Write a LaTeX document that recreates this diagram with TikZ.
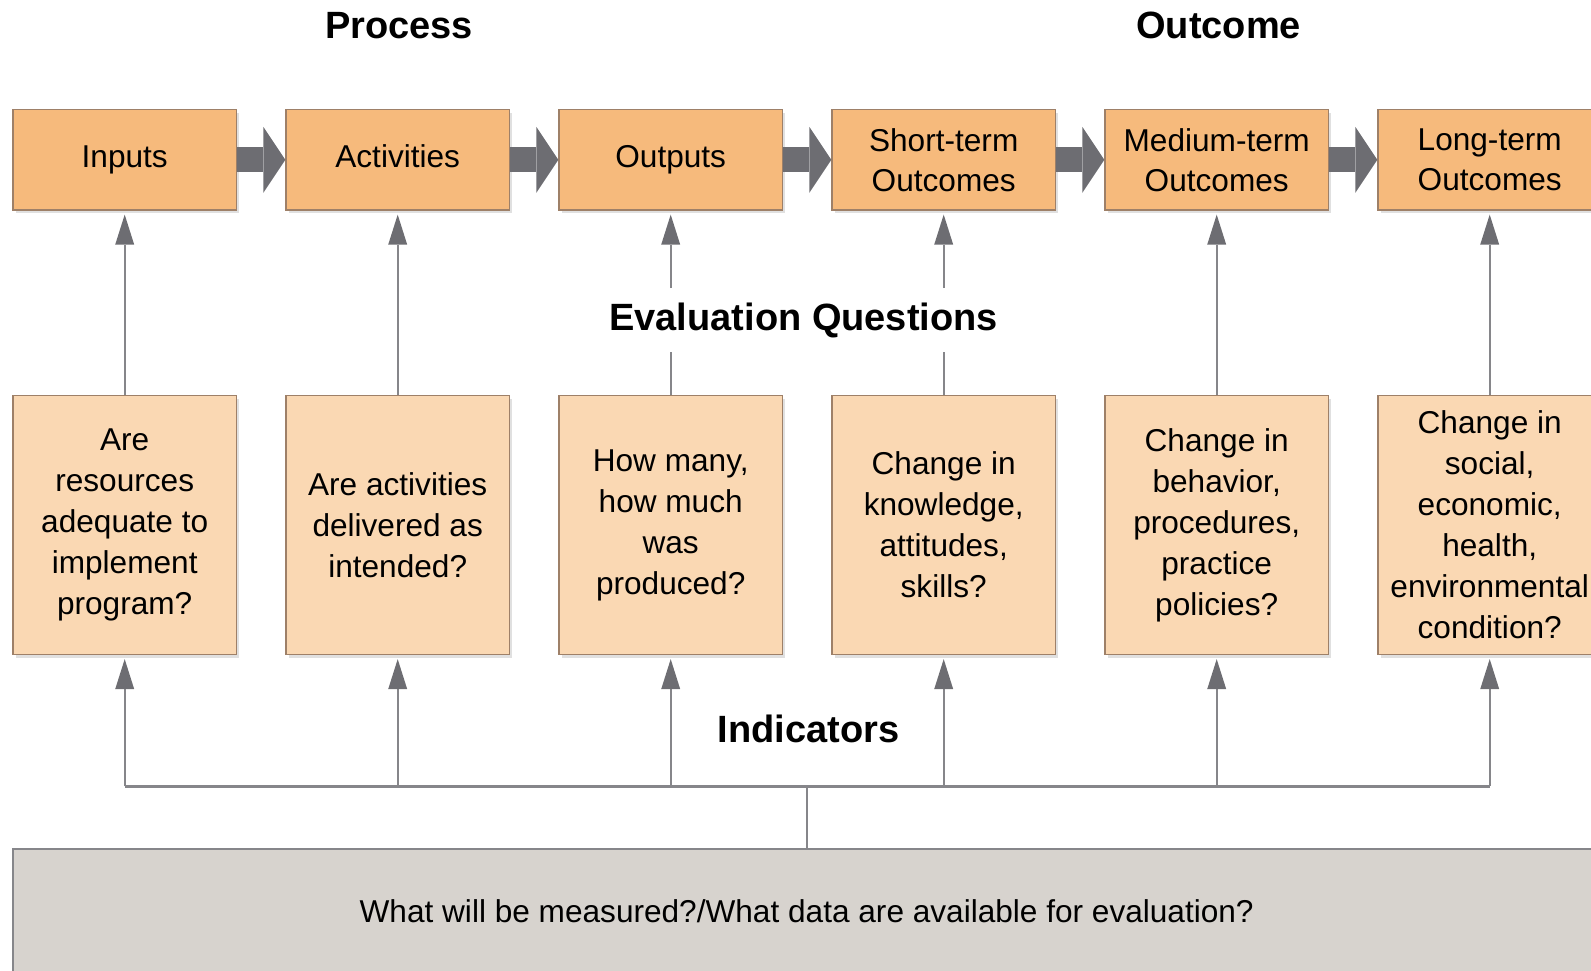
\documentclass[tikz,border=0pt]{standalone}
\usepackage{fontspec}
\setmainfont{Liberation Sans}
\usetikzlibrary{shadows}
\usetikzlibrary{arrows.meta}
\usetikzlibrary{calc}
\definecolor{stageorange}{HTML}{F6BA7C}
\definecolor{questpeach}{HTML}{FAD8B3}
\definecolor{boxedge}{HTML}{9E8068}
\definecolor{datagray}{HTML}{D7D3CE}
\definecolor{arrowgray}{HTML}{6D6D72}
\definecolor{linegray}{HTML}{86868A}
\tikzstyle{stage}=[rectangle,draw=boxedge,fill=stageorange,line width=0.6pt,minimum width=111.75pt,minimum height=50.2pt,inner sep=0pt,align=center,font=\fontsize{15.8}{20}\selectfont,drop shadow={shadow xshift=1.5pt,shadow yshift=-1.5pt,fill=black!20,opacity=0.6}]
\tikzstyle{question}=[stage,fill=questpeach,minimum height=129.4pt,font=\fontsize{15.8}{20.5}\selectfont]
\tikzstyle{datastrip}=[rectangle,draw=linegray,fill=datagray,line width=0.8pt,minimum width=794pt,minimum height=62pt,inner sep=0pt,font=\fontsize{15.8}{20}\selectfont]
\tikzstyle{heading}=[font=\bfseries\fontsize{19}{22}\selectfont]
\tikzstyle{flowarrow}=[arrowgray,line width=12.5pt,-{Triangle[length=11pt,width=33pt,line width=0pt]}]
\tikzstyle{qline}=[linegray,line width=1.2pt]
\tikzstyle{qarrow}=[qline,-{Triangle[length=15pt,width=9.5pt,line width=0pt,color=arrowgray]},shorten >=2pt]

\begin{document}
\begin{tikzpicture}[x=0.5pt,y=-0.5pt]

    \clip (0,0) rectangle (1591,970);

    % headings
    \node[heading] (process) at (399,25.4) {Process};
    \node[heading] (outcome) at (1218.6,25.4) {Outcome};

    % stages of the chain
    \foreach \x/\name/\txt in {124.7/s1/{Inputs\strut}, 397.7/s2/{Activities\strut}, 670.7/s3/{Outputs\strut},
                               943.7/s4/{Short-term\\Outcomes}, 1216.7/s5/{Medium-term\\Outcomes},
                               1489.7/s6/{Long-term\\Outcomes}}
        \node[stage] (\name) at (\x,159.8) {\txt};

    \foreach \a/\b in {s1/s2, s2/s3, s3/s4, s4/s5, s5/s6}
        \draw[flowarrow] (\a.east) -- (\b.west);

    % questions
    \foreach \x/\name/\txt in {124.7/q1/{Are\\resources\\adequate to\\implement\\program?},
                               397.7/q2/{Are activities\\delivered as\\intended?},
                               670.7/q3/{How many,\\how much\\was\\produced?},
                               943.7/q4/{Change in\\knowledge,\\attitudes,\\skills?},
                               1216.7/q5/{Change in\\behavior,\\procedures,\\practice\\policies?},
                               1489.7/q6/{Change in\\social,\\economic,\\health,\\environmental\\condition?}}
        \node[question] (\name) at (\x,525.1) {\txt};

    \node[heading, inner ysep=7pt] (evq) at (803.6,320) {Evaluation Questions};

    \foreach \i in {1,2,5,6}
        \draw[qarrow] (q\i.north) -- (s\i.south);
    \foreach \i in {3,4} {
        \draw[qline] (q\i.north) -- (q\i.north |- evq.south);
        \draw[qarrow] (q\i.north |- evq.north) -- (s\i.south);
    }

    % indicators
    \node[heading] (ind) at (808.7,728.6) {Indicators};
    \node[datastrip] (data) at (806.7,911) {What will be measured?/What data are available for evaluation?};
    \coordinate (bus) at (806.7,786.4);

    \draw[qline] (q1.south |- bus) -- (q6.south |- bus);
    \draw[qline] (bus) -- (data.north);
    \foreach \i in {1,...,6}
        \draw[qarrow] (q\i.south |- bus) -- (q\i.south);

\end{tikzpicture}
\end{document}
